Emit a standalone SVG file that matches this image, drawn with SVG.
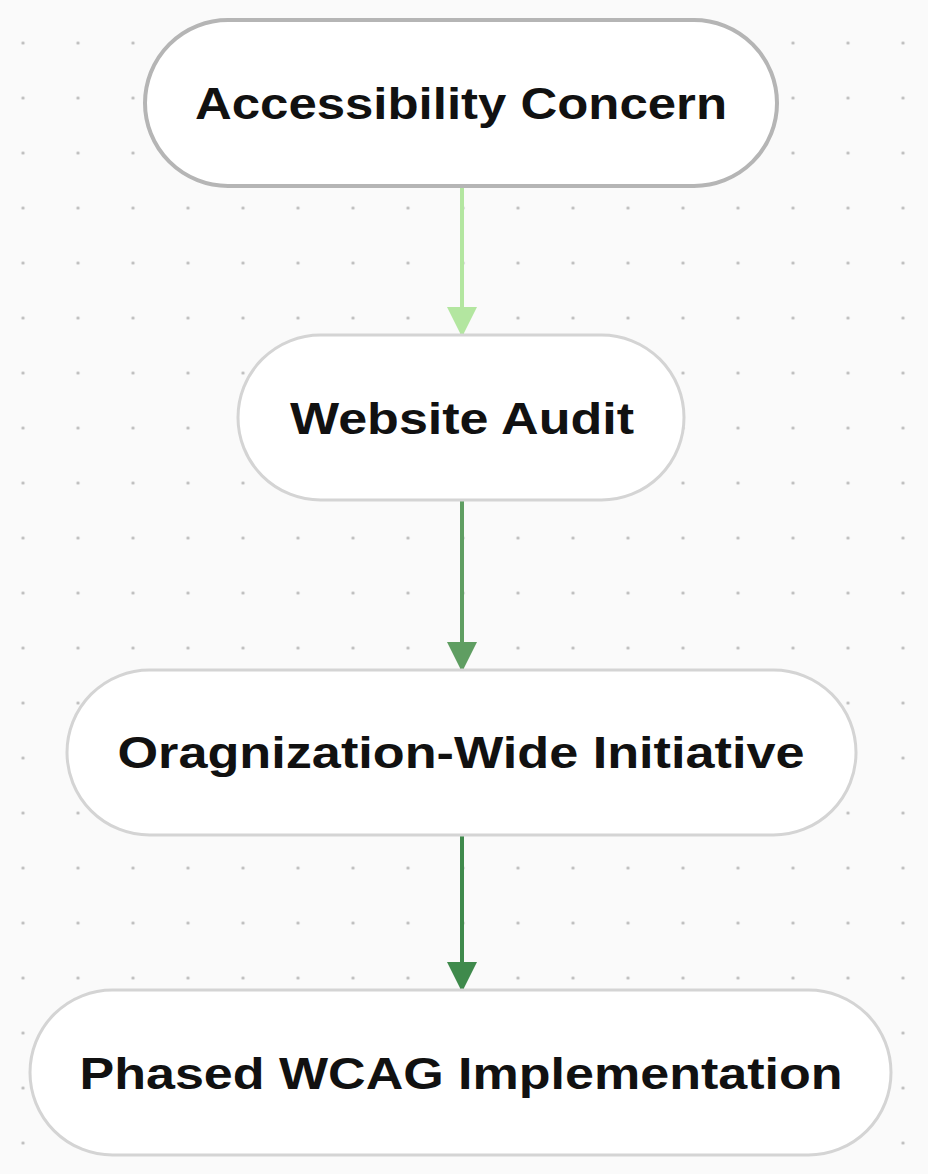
<svg xmlns="http://www.w3.org/2000/svg" width="928" height="1174" viewBox="0 0 928 1174">
<defs>
<pattern id="dots" patternUnits="userSpaceOnUse" x="-4.5" y="15.5" width="55" height="55"><circle cx="27.5" cy="27.5" r="1.6" fill="#b8b8b8"/></pattern>
<marker id="a2" viewBox="0 0 10 10" markerWidth="32" markerHeight="30" refX="9" refY="5" orient="auto" markerUnits="userSpaceOnUse"><path d="M0,0 L10,5 L0,10 Z" fill="#5f9e62"/></marker>
<marker id="a3" viewBox="0 0 10 10" markerWidth="32" markerHeight="30" refX="9" refY="5" orient="auto" markerUnits="userSpaceOnUse"><path d="M0,0 L10,5 L0,10 Z" fill="#3f8a4c"/></marker>
<marker id="a1b" viewBox="0 0 10 10" markerWidth="32" markerHeight="30" refX="9" refY="5" orient="auto" markerUnits="userSpaceOnUse"><path d="M0,0 L10,5 L0,10 Z" fill="#b3e6a0"/></marker>
</defs>
<style>
.n{fill:#fff;stroke:#d4d4d4;stroke-width:3}
.t{font-family:"Liberation Sans",Arial,sans-serif;font-weight:bold;font-size:44px;fill:#111;text-anchor:middle;dominant-baseline:central}
</style>
<rect width="928" height="1174" fill="#fafafa"/>
<rect width="928" height="1174" fill="url(#dots)"/>
<g id="connectors" fill="none" stroke-width="4">
<line x1="462" y1="186" x2="462" y2="334" stroke="#b3e6a0" marker-end="url(#a1b)"/>
<line x1="462" y1="500" x2="462" y2="669" stroke="#5f9e62" marker-end="url(#a2)"/>
<line x1="462" y1="835" x2="462" y2="989" stroke="#3f8a4c" marker-end="url(#a3)"/>
</g>
<g id="n1"><rect class="n" x="145" y="20" width="632" height="166" rx="83" style="stroke:#b5b5b5;stroke-width:4"/><text class="t" x="461" y="103" textLength="532" lengthAdjust="spacingAndGlyphs">Accessibility Concern</text></g>
<g id="n2"><rect class="n" x="238" y="335" width="446" height="165" rx="82.5"/><text class="t" x="462" y="418" textLength="344" lengthAdjust="spacingAndGlyphs">Website Audit</text></g>
<g id="n3"><rect class="n" x="67" y="670" width="789" height="165" rx="82.5"/><text class="t" x="461" y="752" textLength="687" lengthAdjust="spacingAndGlyphs">Oragnization-Wide Initiative</text></g>
<g id="n4"><rect class="n" x="30" y="990" width="861" height="165" rx="82.5"/><text class="t" x="461" y="1073" textLength="763" lengthAdjust="spacingAndGlyphs">Phased WCAG Implementation</text></g>
</svg>
